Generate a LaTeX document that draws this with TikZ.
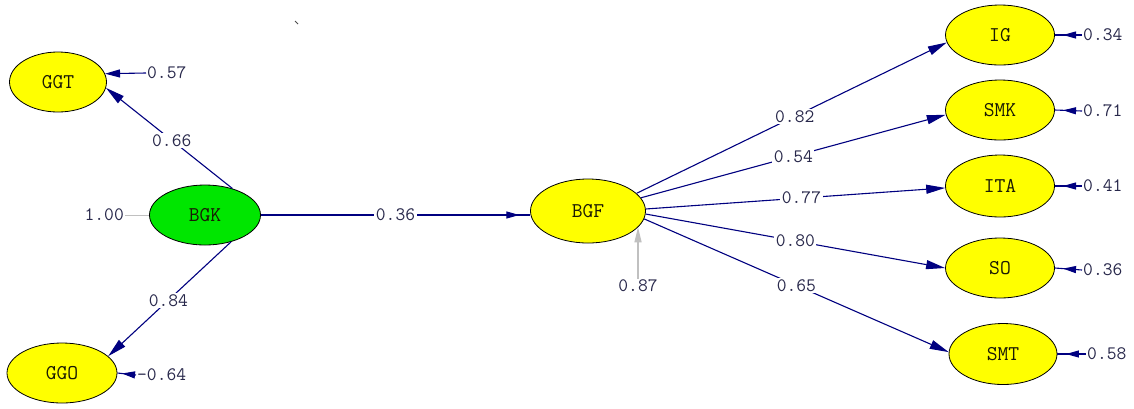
\documentclass[tikz,border=0pt]{standalone}
\usepackage{fontspec}
\usetikzlibrary{shapes.geometric,arrows.meta,decorations.markings}

\definecolor{pathblue}{RGB}{0,0,128}
\definecolor{varyellow}{RGB}{255,255,0}
\definecolor{vargreen}{RGB}{0,230,0}
\definecolor{numtext}{RGB}{40,40,75}
\definecolor{vartext}{RGB}{25,25,5}
\definecolor{errgray}{RGB}{192,192,192}

\tikzset{
  txt/.style={font=\ttfamily\fontsize{19}{19}\selectfont},
  var/.style={ellipse, draw=black, line width=0.8pt, fill=varyellow, inner sep=0pt,
              minimum width=109pt, minimum height=60pt,
              font=\ttfamily\fontsize{21}{21}\selectfont, text=vartext},
  num/.style={txt, text=numtext, inner sep=1pt},
  onpath/.style={num, fill=white, inner sep=1.5pt},
  diaghead/.style={-{Triangle[length=19pt,width=9pt]}},
  path/.style={draw=pathblue, line width=1.1pt},
  headat/.style={postaction={decorate}, decoration={markings,
      mark=at position #1 with {\arrow[pathblue]{Triangle[length=13pt,width=7pt]}}}},
}

\begin{document}
\begin{tikzpicture}[x=1pt, y=-1pt]
  \useasboundingbox[fill=white] (0,0) rectangle (1134,408);

  % latent and observed variables
  \node[var, minimum width=97pt]                  (GGT) at (58,82)   {GGT};
  \node[var, fill=vargreen, minimum width=111pt]  (BGK) at (205,215) {BGK};
  \node[var, minimum width=110pt]                 (GGO) at (62,373)  {GGO};
  \node[var, minimum width=115pt, minimum height=64pt] (BGF) at (588,211) {BGF};
  \node[var]                                      (IG)  at (1000,35)  {IG};
  \node[var]                                      (SMK) at (1000,110) {SMK};
  \node[var, minimum height=62pt]                 (ITA) at (1000,186) {ITA};
  \node[var]                                      (SO)  at (1000,268) {SO};
  \node[var, minimum width=108pt, minimum height=61pt] (SMT) at (1003,354) {SMT};

  % error / variance labels
  \node[num, anchor=west] (e57)  at (146,73)  {0.57};
  \node[num, anchor=west] (e64)  at (136,375) {-0.64};
  \node[num, anchor=east] (e100) at (125,215) {1.00};
  \node[num]              (e87)  at (638,286) {0.87};
  \node[num, anchor=west] (e34)  at (1082,35)  {0.34};
  \node[num, anchor=west] (e71)  at (1082,111) {0.71};
  \node[num, anchor=west] (e41)  at (1082,186) {0.41};
  \node[num, anchor=west] (e36)  at (1082,270) {0.36};
  \node[num, anchor=west] (e58)  at (1086,354) {0.58};

  % structural paths
  \draw[path, diaghead] (BGK.44) -- node[onpath, pos=0.48] {0.66} (GGT.-7);
  \draw[path, diaghead] (BGK.-46) -- node[onpath, pos=0.51] {0.84} (GGO.20);
  \draw[path, headat=0.96] (BGK.east) -- node[onpath] {0.36} (BGK.east -| BGF.west);

  \draw[path, diaghead] (BGF.20)  -- node[onpath, pos=0.51] {0.82} (IG.188);
  \draw[path, diaghead] (BGF.14)  -- node[onpath, pos=0.5]  {0.54} (SMK.185);
  \draw[path, diaghead] (BGF.2)   -- node[onpath, pos=0.52] {0.77} (ITA.182);
  \draw[path, diaghead] (BGF.-3)  -- node[onpath, pos=0.5]  {0.80} (SO.180);
  \draw[path, diaghead] (BGF.-8)  -- node[onpath, pos=0.5]  {0.65} (SMT.178);

  % error arrows
  \draw[path, -{Triangle[length=15pt,width=8pt]}] (e57.west) -- (GGT.10);
  \draw[path, headat=0.75] (e64.west) -- (GGO.east);
  \draw[path, headat=0.7] (e34.west) -- (IG.east);
  \draw[path, headat=0.7] (e71.west) -- (SMK.east);
  \draw[path, headat=0.7] (e41.west) -- (ITA.east);
  \draw[path, headat=0.7] (e36.west) -- (SO.east);
  \draw[path, headat=0.7] (e58.west) -- (SMT.east);

  \draw[errgray, line width=1pt] (e100.east) -- (BGK.west);
  \draw[errgray, line width=1.3pt, -{Triangle[length=15pt,width=7pt]}]
    (e87.north) -- (e87.north |- BGF.-18);

  % small stray tick
  \draw[black!70, line width=1pt] (295,21) -- (298,24);
\end{tikzpicture}
\end{document}
